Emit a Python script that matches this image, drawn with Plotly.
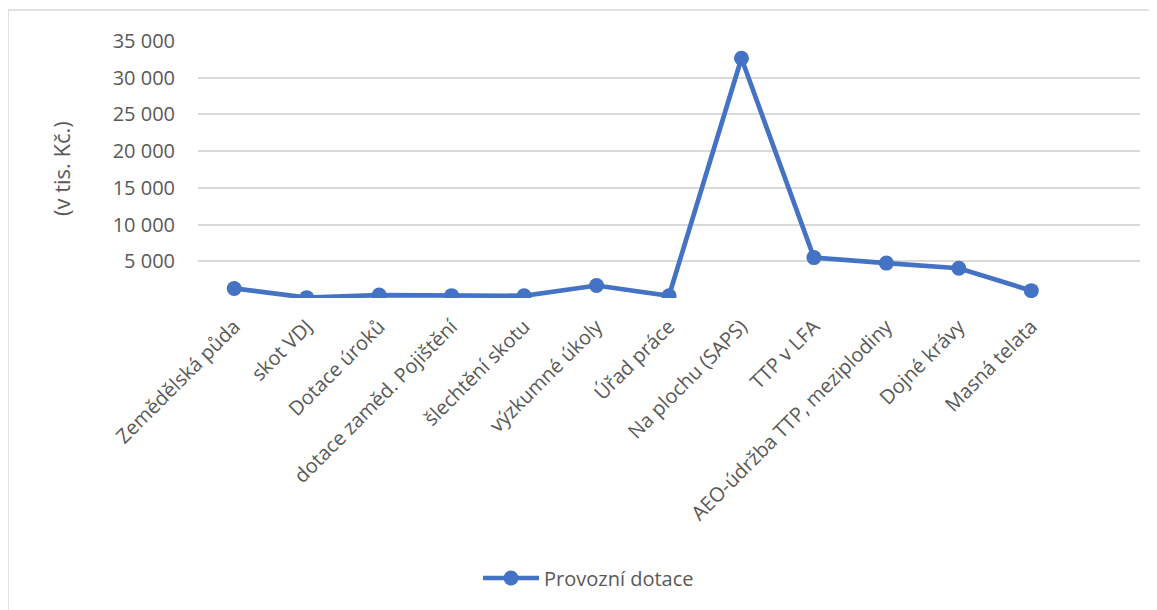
import plotly.graph_objects as go

# data (v tis. Kč.)
categories = [
    "Zemědělská půda", "skot VDJ", "Dotace úroků", "dotace zaměd. Pojištění",
    "šlechtění skotu", "výzkumné úkoly", "Úřad práce", "Na plochu (SAPS)",
    "TTP v LFA", "AEO-údržba TTP, meziplodiny", "Dojné krávy", "Masná telata",
    " ",
]
provozni_dotace = [1300, 50, 400, 320, 300, 1700, 300, 32650, 5500, 4750, 4050, 1000, None]
y_ticks = [0, 5000, 10000, 15000, 20000, 25000, 30000, 35000]
y_tick_text = ["", "5 000", "10 000", "15 000", "20 000", "25 000", "30 000", "35 000"]

# page body has an 8px margin, so work in page pixels and shift
OFF = 8
W, H = 1157 - OFF, 610 - OFF
PLOT_L, PLOT_R, PLOT_T, PLOT_B = 198 - OFF, 1140 - OFF, 41 - OFF, 298 - OFF
TEXT = "#595959"
BLUE = "#4472C4"
FONT = "Open Sans, Liberation Sans, sans-serif"


def px_x(x):
    return (x - OFF - PLOT_L) / (PLOT_R - PLOT_L)


def px_y(y):
    return (PLOT_B - (y - OFF)) / (PLOT_B - PLOT_T)


fig = go.Figure()
fig.add_trace(go.Scatter(
    x=categories,
    y=provozni_dotace,
    mode="lines+markers",
    name="Provozní dotace",
    line=dict(color=BLUE, width=4.7),
    marker=dict(color=BLUE, size=15),
))

fig.update_layout(
    width=W,
    height=H,
    margin=dict(l=PLOT_L, r=W - PLOT_R, t=PLOT_T, b=H - PLOT_B, autoexpand=False),
    paper_bgcolor="white",
    plot_bgcolor="white",
    font=dict(family=FONT, size=20, color=TEXT),
    showlegend=True,
    legend=dict(
        orientation="h",
        x=px_x(478), y=px_y(578),
        xanchor="left", yanchor="middle",
        font=dict(size=20, color=TEXT),
        itemwidth=56,
    ),
    xaxis=dict(
        type="category",
        range=[-0.5, len(categories) - 0.5],
        tickangle=-45,
        showgrid=False,
        showline=False,
        ticks="",
        ticklabelstandoff=12,
        automargin=False,
        tickfont=dict(size=20, color=TEXT),
    ),
    yaxis=dict(
        range=[0, 35000],
        tickvals=y_ticks,
        ticktext=y_tick_text,
        showgrid=True,
        gridcolor="#D9D9D9",
        gridwidth=1.5,
        zeroline=False,
        showline=False,
        ticks="",
        ticklabelstandoff=22,
        automargin=False,
        tickfont=dict(size=20, color=TEXT),
    ),
    annotations=[dict(
        text="(v tis. Kč.)",
        xref="paper", yref="paper",
        x=px_x(61), y=px_y(169),
        xanchor="center", yanchor="middle",
        textangle=-90,
        showarrow=False,
        font=dict(size=22, color=TEXT),
    )],
    shapes=[
        dict(type="line", xref="paper", yref="paper",
             x0=px_x(8), x1=px_x(1200), y0=px_y(10), y1=px_y(10),
             line=dict(color="#D9D9D9", width=1.5)),
        dict(type="line", xref="paper", yref="paper",
             x0=px_x(8), x1=px_x(8), y0=px_y(10), y1=px_y(700),
             line=dict(color="#D9D9D9", width=1.5)),
    ],
)

fig.write_html("out.html")
